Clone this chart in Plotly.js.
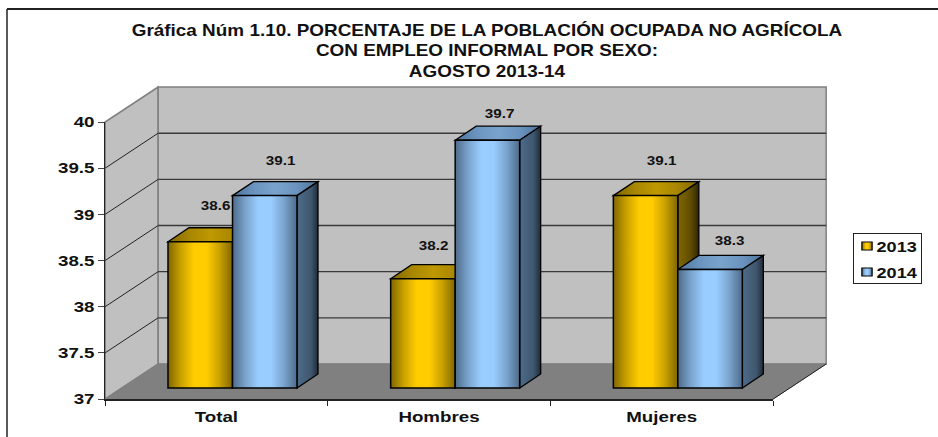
<!DOCTYPE html>
<html><head><meta charset="utf-8">
<script src="https://cdn.plot.ly/plotly-3.0.1.min.js"></script>
<style>html,body{margin:0;padding:0;background:#fff}#c{width:938px;height:437px}</style></head>
<body><div id="c"></div>
<script>
const categories = ["Total", "Hombres", "Mujeres"];
const series2013 = [38.6, 38.2, 39.1];
const series2014 = [39.1, 39.7, 38.3];
const seriesNames = ["2013", "2014"];
const yTicks = [37, 37.5, 38, 38.5, 39, 39.5, 40];
const titleLines = ["Gráfica Núm 1.10. PORCENTAJE DE LA POBLACIÓN OCUPADA NO AGRÍCOLA",
  "CON EMPLEO INFORMAL POR SEXO:", "AGOSTO 2013-14"];

const W = 938, H = 437;
const FONT = '"Liberation Sans", Arial, sans-serif';
const sx = 222.67, sy = 92.33;             // px per unit on the planes
const x0px = 232.5, y37px = 389.5;         // bar plane origin
const u = px => px / sx, v = px => px / sy;
const baseV = 37, barFloor = baseV + v(1.5);
const barW = 64.5 / sx;
const depthX = u(21), depthY = v(14);
const frontX = u(-16), frontY = v(-9.5), backX = u(37), backY = v(25.5);
// Placement of the data labels relative to their bar, in pixels
const labelShift2013 = [[15, 36.5], [11, 33], [16, 35]];
const labelShift2014 = [[15.5, 35.5], [12, 26.5], [19, 28.5]];

const shapes = [], gradientFor = {};
function poly(pts, fill, lineColor, lineW, grad) {
  const path = pts.map((p, i) => (i ? "L" : "M") + p[0] + "," + p[1]).join(" ") + " Z";
  if (grad) gradientFor[shapes.length] = grad;
  shapes.push({type: "path", path, xref: "x", yref: "y", layer: "below",
    fillcolor: fill, line: {color: lineColor, width: lineW}});
}
function seg(a, b, color, w) {
  shapes.push({type: "line", xref: "x", yref: "y", layer: "below",
    x0: a[0], y0: a[1], x1: b[0], y1: b[1], line: {color, width: w}});
}
const L = -0.5 + frontX, R = 2.5 + frontX, LB = -0.5 + backX, RB = 2.5 + backX;
const fb = baseV + frontY, bb = baseV + backY;
const topV = yTicks[yTicks.length - 1];
poly([[L, fb], [LB, bb], [LB, topV + backY], [L, topV + frontY]], "#C0C0C0", "#808080", 1.5);
poly([[LB, bb], [RB, bb], [RB, topV + backY], [LB, topV + backY]], "#C0C0C0", "#808080", 1.5);
poly([[L, fb], [LB, bb], [RB, bb], [R, fb]], "#808080", "#808080", 1);
seg([R, fb], [RB, bb], "#222", 1);
yTicks.slice(1, -1).forEach(t => {
  seg([L, t + frontY], [LB, t + backY], "#222", 1);
  seg([LB, t + backY], [RB, t + backY], "#3A3A3A", 1.4);
});
function faces(vals, side, top, sideFill) {
  vals.forEach((val, i) => {
    const l = i + side * barW, r = l + barW;
    poly([[l, val], [l + depthX, val + depthY], [r + depthX, val + depthY], [r, val]], top.base, "#000", 1.3, top.id);
    poly([[r, val], [r + depthX, val + depthY], [r + depthX, barFloor + depthY], [r, barFloor]], sideFill.base, "#000", 1.3, sideFill.id);
  });
}
faces(series2013, -1, {base: "#A88600", id: "gTopY"}, {base: "#6B5500", id: "gSideY"});
faces(series2014, 0, {base: "#6A94BF", id: "gTopB"}, {base: "#46617C", id: "gSideB"});

const lblFont = {family: FONT, size: 13, weight: 700, color: "#111"};
const annotations = [];
[[series2013, -0.5, labelShift2013], [series2014, 0.5, labelShift2014]].forEach(([vals, k, sh]) => vals.forEach((val, i) => {
  annotations.push({x: i + k * barW, y: val, xref: "x", yref: "y", text: val.toFixed(1),
    showarrow: false, xshift: sh[i][0], yshift: sh[i][1], font: lblFont, xanchor: "center", yanchor: "middle"});
}));

const barTrace = (name, vals, col) => ({
  type: "bar", name, x: [0, 1, 2], y: vals.map(d => d - barFloor), base: barFloor,
  xaxis: "x", yaxis: "y", marker: {color: col, line: {color: "#000", width: 1.5}}, hoverinfo: "skip"
});
const data = [
  barTrace(seriesNames[0], series2013, "#FFCC00"),
  barTrace(seriesNames[1], series2014, "#99CCFF"),
  {type: "scatter", mode: "lines", x: categories, y: [37, 37, 37], xaxis: "x2", yaxis: "y2",
    showlegend: false, line: {width: 0}, hoverinfo: "skip"}
];
const bold15 = {family: FONT, size: 15, weight: 700, color: "#111"};
const layout = {
  width: W, height: H, autosize: false, paper_bgcolor: "#fff", plot_bgcolor: "rgba(0,0,0,0)",
  margin: {l: 0, r: 0, t: 0, b: 0}, barmode: "group", bargap: 1 - 2 * barW,
  font: {family: FONT, color: "#111"},
  title: {text: titleLines.join("<br>"),
    font: {family: FONT, size: 15.7, weight: 700, color: "#111"},
    x: 487 / W, xanchor: "center", y: 1 - 36 / H, yanchor: "top", xref: "paper", yref: "paper"},
  xaxis: {domain: [0, 1], range: [(0 - x0px) / sx, (W - x0px) / sx], visible: false, fixedrange: true},
  yaxis: {domain: [0, 1], range: [baseV - (H - y37px) / sy, baseV + y37px / sy], visible: false, fixedrange: true},
  xaxis2: {domain: [105 / W, 773 / W], anchor: "y2", type: "category", categoryorder: "array", categoryarray: categories,
    range: [-0.5, 2.5], tickson: "boundaries", ticks: "outside", ticklen: 5, tickcolor: "#222", tickwidth: 1,
    ticklabelstandoff: 3, showline: true, linecolor: "#222", linewidth: 2, showgrid: false, zeroline: false,
    fixedrange: true, tickfont: bold15},
  yaxis2: {domain: [(H - 399) / H, (H - 122) / H], anchor: "x2", range: [37, 40], tickmode: "array", tickvals: yTicks,
    ticks: "outside", ticklen: 6, tickcolor: "#444", showline: true, linecolor: "#222", linewidth: 1.5,
    showgrid: false, zeroline: false, fixedrange: true, tickfont: bold15},
  legend: {x: 853 / W, y: 1 - 233 / H, xanchor: "left", yanchor: "top", bgcolor: "#fff",
    bordercolor: "#222", borderwidth: 1, font: bold15, itemwidth: 30, tracegroupgap: 0},
  shapes: shapes.concat([
    {type: "line", xref: "paper", yref: "paper", x0: 7 / W, x1: 1, y0: 1 - 9 / H, y1: 1 - 9 / H, line: {color: "#222", width: 2}, layer: "below"},
    {type: "line", xref: "paper", yref: "paper", x0: 7 / W, x1: 7 / W, y0: 0, y1: 1 - 9 / H, line: {color: "#222", width: 1.5}, layer: "below"}
  ]),
  annotations
};
const stops = {
  gBarY: ["#806600", "#C9A100", "#FFCC00", "#FFCC00", "#C9A100", "#806600"],
  gBarB: ["#4D6B8A", "#7AA3CC", "#99CCFF", "#99CCFF", "#7AA3CC", "#4D6B8A"],
  gTopY: ["#806600", "#A88600", "#BF9900", "#A88600", "#806600"],
  gTopB: ["#4D7399", "#6A94BF", "#7AA3CC", "#6A94BF", "#4D7399"],
  gSideY: ["#806600", "#705A00", "#5A4800", "#2E2500"],
  gSideB: ["#4D6B8A", "#46617C", "#3F566E", "#1F2B38"]
};
// Widen a text horizontally about an anchor (0 left, .5 centre, 1 right of its box)
function stretch(el, k, a) {
  const b = el.getBBox(), cx = b.x + a * b.width;
  const old = el.getAttribute("transform") || "";
  el.setAttribute("transform", old + " translate(" + cx + ",0) scale(" + k + ",1) translate(" + (-cx) + ",0)");
}
Plotly.newPlot("c", data, layout, {displayModeBar: false, staticPlot: true}).then(gd => {
  const svg = gd.querySelector("svg.main-svg");
  const ns = "http://www.w3.org/2000/svg";
  const defs = svg.querySelector("defs") || svg.insertBefore(document.createElementNS(ns, "defs"), svg.firstChild);
  Object.entries(stops).forEach(([id, cols]) => {
    const g = document.createElementNS(ns, "linearGradient");
    g.setAttribute("id", id); g.setAttribute("x1", "0"); g.setAttribute("x2", "1"); g.setAttribute("y1", "0"); g.setAttribute("y2", "0");
    cols.forEach((c, i) => {
      const s = document.createElementNS(ns, "stop");
      s.setAttribute("offset", i / (cols.length - 1)); s.setAttribute("stop-color", c); g.appendChild(s);
    });
    defs.appendChild(g);
  });
  const bars = gd.querySelectorAll(".trace.bars");
  ["gBarY", "gBarB"].forEach((id, i) => bars[i].querySelectorAll("path").forEach(p => p.style.fill = "url(#" + id + ")"));
  gd.querySelectorAll(".shapelayer path").forEach(p => {
    const idx = +p.getAttribute("data-index");
    if (gradientFor[idx]) p.style.fill = "url(#" + gradientFor[idx] + ")";
  });
  // legend geometry
  const lbg = gd.querySelector(".legend .bg");
  lbg.setAttribute("width", 68); lbg.setAttribute("height", 50);
  gd.querySelectorAll(".legend .traces").forEach((t, i) => {
    t.setAttribute("transform", "translate(0.5," + (13 + 26 * i) + ")");
    t.querySelectorAll(".legendpoints path").forEach(p => {
      p.style.fill = "url(#" + ["gBarY", "gBarB"][i] + ")";
      p.setAttribute("transform", "translate(13.5,0) scale(0.85,0.65)");
    });
    const txt = t.querySelector(".legendtext");
    txt.setAttribute("x", 23);
    stretch(txt, 1.21, 0);
  });
  // text widths as in the reference
  stretch(gd.querySelector(".gtitle"), 1.205, 0.5);
  gd.querySelectorAll(".x2tick text").forEach(t => stretch(t, 1.25, 0.5));
  gd.querySelectorAll(".y2tick text").forEach(t => stretch(t, 1.25, 1));
  gd.querySelectorAll(".annotation-text").forEach(t => stretch(t, 1.17, 0.5));
});
</script></body></html>
